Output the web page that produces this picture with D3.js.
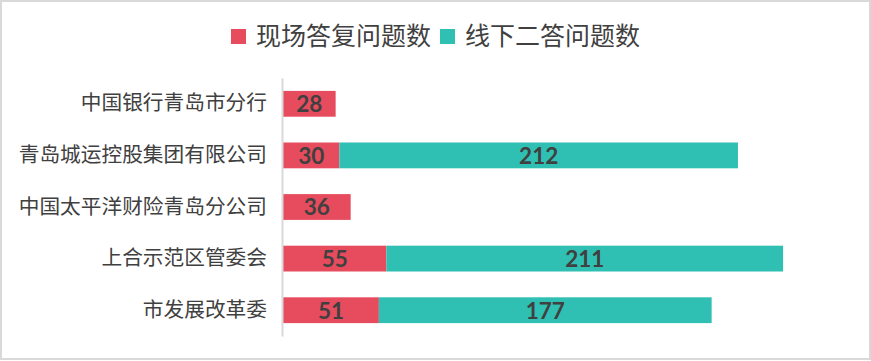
<!DOCTYPE html>
<html>
<head>
<meta charset="utf-8">
<script src="https://cdn.jsdelivr.net/npm/d3@7"></script>
<style>
  body { margin: 0; background: #fff; }
  svg { display: block; }
</style>
</head>
<body>
<svg id="chart" width="871" height="361"></svg>
<script>
// chart data
var categories = ["中国银行青岛市分行", "青岛城运控股集团有限公司", "中国太平洋财险青岛分公司", "上合示范区管委会", "市发展改革委"];
var onsiteValues = [28, 30, 36, 55, 51];
var offlineValues = [0, 212, 0, 211, 177];
var seriesNames = ["现场答复问题数", "线下二答问题数"];
var seriesColors = ["#E64C5D", "#2FC0B3"];

var svg = d3.select("#chart");
var W = 871, H = 361;

// outer border
svg.append("rect")
    .attr("x", 1).attr("y", 1)
    .attr("width", 869).attr("height", 358)
    .attr("fill", "#fff")
    .attr("stroke", "#d9d9d9")
    .attr("stroke-width", 2);

var x = d3.scaleLinear().domain([0, 300]).range([283, 283 + 564]);
var y = d3.scaleBand()
    .domain(categories)
    .range([78, 336])
    .paddingInner(0.5)
    .paddingOuter(0.25);

// stacked rows
var rows = categories.map(function(c, i) {
    return { cat: c, a: onsiteValues[i], b: offlineValues[i] };
});

var g = svg.append("g");

rows.forEach(function(d) {
    var segs = [
        { x0: 0, x1: d.a, v: d.a, color: seriesColors[0] },
        { x0: d.a, x1: d.a + d.b, v: d.b, color: seriesColors[1] }
    ];
    segs.forEach(function(s) {
        if (!s.v) return;
        g.append("rect")
            .attr("x", x(s.x0))
            .attr("y", y(d.cat))
            .attr("width", x(s.x1) - x(s.x0))
            .attr("height", y.bandwidth())
            .attr("fill", s.color);
        g.append("text")
            .attr("x", (x(s.x0) + x(s.x1)) / 2)
            .attr("y", y(d.cat) + y.bandwidth() / 2)
            .attr("dy", "0.37em")
            .attr("text-anchor", "middle")
            .style("font-family", "Lato, 'Open Sans', sans-serif")
            .style("font-weight", "bold")
            .style("font-size", "22.5px")
            .style("fill", "#404040")
            .text(s.v);
    });
});

// category axis
var yAxis = d3.axisLeft(y).tickSize(0).tickSizeOuter(0).tickPadding(15);
var ax = svg.append("g")
    .attr("transform", "translate(282,0)")
    .call(yAxis);
ax.select(".domain").attr("stroke", "#d9d9d9").attr("stroke-width", 2);
ax.selectAll("text")
    .style("font-family", "'Noto Sans CJK SC', sans-serif")
    .style("font-size", "20.7px")
    .style("fill", "#404040");

// legend
var legend = svg.append("g");
var lx = 0;
seriesNames.forEach(function(name, i) {
    var item = legend.append("g").attr("transform", "translate(" + lx + ",0)");
    item.append("rect")
        .attr("x", 0).attr("y", 29)
        .attr("width", 15).attr("height", 15)
        .attr("fill", seriesColors[i]);
    var t = item.append("text")
        .attr("x", 25).attr("y", 36)
        .attr("dy", "0.36em")
        .style("font-family", "'Noto Sans CJK SC', sans-serif")
        .style("font-size", "25px")
        .style("fill", "#404040")
        .text(name);
    lx += 25 + t.node().getComputedTextLength() + 9;
});
var lw = lx - 9;
legend.attr("transform", "translate(" + ((W - lw) / 2) + ",0)");
</script>
</body>
</html>
